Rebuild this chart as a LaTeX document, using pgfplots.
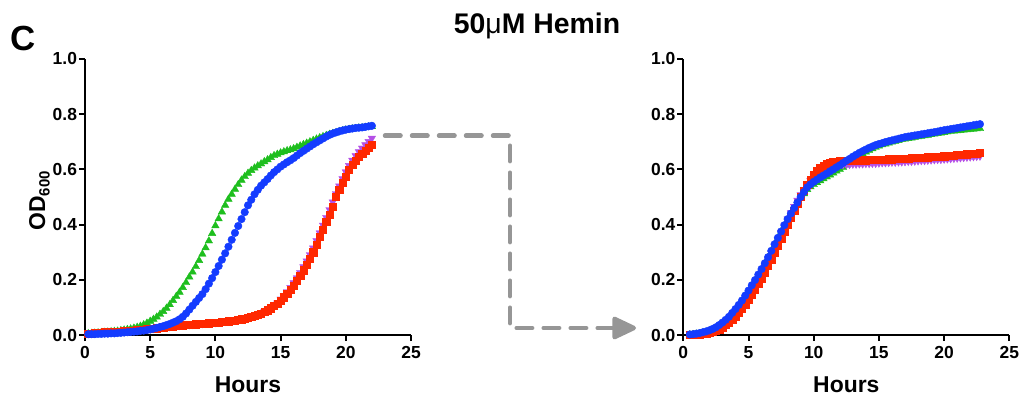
\documentclass[border=0pt]{standalone}
\usepackage{fontspec}
\setmainfont{Liberation Sans}
\usepackage{pgfplots}
\usepackage{pgfplotstable}
\pgfplotsset{compat=1.18}
\usetikzlibrary{arrows.meta}
\definecolor{cgreen}{RGB}{30,190,30}
\definecolor{cpurple}{RGB}{180,80,230}
\definecolor{cred}{RGB}{255,40,0}
\definecolor{cblue}{RGB}{20,60,255}
\definecolor{carrow}{RGB}{150,150,150}

\pgfplotstableread{
t g p r b
0.25 .005 .005 .005 .003
0.5 .006 .006 .006 .003
0.75 .007 .007 .007 .003
1.0 .008 .008 .008 .004
1.25 .009 .009 .009 .004
1.5 .010 .010 .010 .005
1.75 .011 .010 .010 .005
2.0 .012 .011 .011 .006
2.25 .013 .012 .012 .006
2.5 .014 .013 .013 .007
2.75 .016 .013 .013 .008
3.0 .018 .014 .014 .009
3.25 .020 .015 .015 .010
3.5 .022 .016 .016 .011
3.75 .025 .017 .017 .012
4.0 .028 .018 .018 .013
4.25 .032 .019 .019 .015
4.5 .037 .020 .020 .016
4.75 .043 .022 .022 .018
5.0 .050 .023 .023 .020
5.25 .057 .024 .024 .023
5.5 .065 .025 .025 .026
5.75 .075 .027 .027 .029
6.0 .085 .028 .028 .032
6.25 .097 .029 .029 .036
6.5 .110 .030 .030 .040
6.75 .125 .032 .032 .045
7.0 .140 .033 .033 .050
7.25 .155 .034 .034 .057
7.5 .172 .035 .035 .066
7.75 .190 .036 .036 .078
8.0 .210 .037 .037 .092
8.25 .228 .038 .038 .106
8.5 .248 .039 .039 .120
8.75 .270 .040 .040 .134
9.0 .293 .041 .041 .148
9.25 .316 .042 .042 .166
9.5 .341 .043 .043 .186
9.75 .368 .044 .044 .206
10.0 .396 .045 .045 .228
10.25 .421 .046 .046 .250
10.5 .446 .047 .047 .273
10.75 .470 .049 .049 .296
11.0 .492 .050 .050 .320
11.25 .510 .052 .052 .345
11.5 .528 .053 .053 .370
11.75 .545 .055 .055 .395
12.0 .561 .057 .057 .420
12.25 .574 .059 .059 .445
12.5 .586 .062 .062 .470
12.75 .596 .066 .066 .490
13.0 .605 .070 .070 .510
13.25 .613 .074 .074 .526
13.5 .620 .078 .078 .541
13.75 .628 .084 .084 .553
14.0 .635 .090 .090 .565
14.25 .643 .097 .097 .578
14.5 .650 .105 .105 .590
14.75 .655 .116 .114 .600
15.0 .660 .130 .125 .610
15.25 .664 .143 .137 .618
15.5 .668 .157 .150 .626
15.75 .671 .172 .164 .633
16.0 .675 .189 .180 .641
16.25 .680 .207 .197 .650
16.5 .685 .226 .215 .659
16.75 .690 .247 .235 .667
17.0 .695 .268 .255 .675
17.25 .700 .291 .277 .683
17.5 .705 .315 .300 .691
17.75 .710 .342 .327 .698
18.0 .715 .370 .355 .705
18.25 .719 .398 .382 .712
18.5 .723 .426 .410 .719
18.75 .727 .454 .437 .725
19.0 .730 .482 .465 .730
19.25 .733 .512 .500 .734
19.5 .737 .540 .527 .738
19.75 .740 .566 .552 .741
20.0 .743 .591 .575 .744
20.25 .745 .614 .598 .746
20.5 .747 .633 .617 .748
20.75 .748 .650 .632 .750
21.0 .750 .664 .645 .751
21.25 .751 .677 .657 .752
21.5 .752 .689 .668 .754
21.75 .754 .701 .679 .756
22.0 .755 .713 .690 .758
}\lefttable

\pgfplotstableread{
t g p r b
0.5 .001 .004 .001 .002
0.75 .002 .004 .001 .003
1.0 .003 .005 .002 .005
1.25 .004 .006 .003 .007
1.5 .007 .008 .004 .010
1.75 .010 .010 .006 .013
2.0 .014 .013 .008 .017
2.25 .019 .017 .011 .022
2.5 .025 .022 .015 .028
2.75 .033 .028 .021 .036
3.0 .042 .035 .028 .045
3.25 .052 .044 .036 .055
3.5 .063 .054 .045 .066
3.75 .077 .066 .056 .080
4.0 .091 .079 .068 .094
4.25 .106 .093 .081 .109
4.5 .122 .108 .095 .125
4.75 .140 .125 .111 .143
5.0 .158 .143 .128 .161
5.25 .177 .162 .146 .180
5.5 .196 .182 .165 .199
5.75 .216 .203 .185 .219
6.0 .236 .225 .205 .239
6.25 .257 .248 .227 .260
6.5 .279 .272 .250 .282
6.75 .302 .297 .275 .305
7.0 .326 .322 .300 .329
7.25 .349 .347 .325 .352
7.5 .372 .372 .350 .375
7.75 .395 .396 .375 .398
8.0 .416 .420 .400 .420
8.25 .436 .443 .425 .440
8.5 .456 .466 .450 .460
8.75 .476 .488 .475 .480
9.0 .495 .508 .500 .500
9.25 .512 .527 .523 .518
9.5 .527 .545 .545 .535
9.75 .537 .560 .563 .546
10.0 .545 .573 .580 .555
10.25 .552 .584 .594 .563
10.5 .559 .593 .605 .571
10.75 .566 .600 .613 .578
11.0 .573 .606 .620 .585
11.25 .580 .610 .624 .593
11.5 .587 .613 .627 .600
11.75 .594 .615 .629 .608
12.0 .600 .617 .630 .615
12.25 .608 .617 .631 .623
12.5 .616 .618 .631 .631
12.75 .624 .618 .632 .638
13.0 .632 .619 .632 .646
13.25 .641 .619 .632 .653
13.5 .649 .620 .633 .660
13.75 .656 .620 .633 .666
14.0 .663 .621 .633 .672
14.25 .669 .621 .634 .678
14.5 .675 .622 .634 .683
14.75 .680 .622 .635 .688
15.0 .685 .623 .635 .692
15.25 .689 .624 .636 .695
15.5 .692 .624 .636 .699
15.75 .696 .625 .637 .702
16.0 .699 .626 .637 .705
16.25 .702 .626 .638 .708
16.5 .705 .627 .638 .711
16.75 .708 .627 .639 .714
17.0 .710 .628 .640 .717
17.25 .712 .629 .640 .719
17.5 .714 .629 .641 .721
17.75 .716 .630 .641 .723
18.0 .718 .631 .642 .725
18.25 .720 .632 .643 .727
18.5 .722 .632 .643 .729
18.75 .724 .633 .644 .731
19.0 .726 .634 .645 .733
19.25 .728 .635 .646 .735
19.5 .730 .636 .646 .737
19.75 .732 .636 .647 .740
20.0 .734 .637 .648 .742
20.25 .736 .638 .649 .744
20.5 .738 .639 .650 .746
20.75 .739 .640 .651 .748
21.0 .740 .641 .652 .750
21.25 .741 .642 .653 .752
21.5 .743 .643 .654 .754
21.75 .744 .644 .655 .756
22.0 .745 .645 .656 .758
22.25 .746 .646 .657 .760
22.5 .747 .647 .658 .762
22.75 .748 .648 .660 .764
}\righttable

\pgfplotsset{
  growth/.style={
    scale only axis, width=326bp, height=276bp,
    xmin=0, xmax=25, ymin=0, ymax=1,
    axis x line*=bottom, axis y line*=left,
    axis line style={line width=2bp, -, black},
    xtick={0,5,10,15,20,25}, ytick={0,0.2,0.4,0.6,0.8,1.0},
    tick align=outside, major tick length=6bp,
    tick style={line width=2bp, black},
    /pgf/number format/assume math mode=true,
    ticklabel style={font=\bfseries\fontsize{17.5}{18}\selectfont},
    yticklabel style={/pgf/number format/fixed, /pgf/number format/fixed zerofill, /pgf/number format/precision=1, xshift=1.5bp},
    xticklabel style={yshift=-2bp},
    xlabel={Hours},
    xlabel style={font=\bfseries\fontsize{23}{24}\selectfont, at={(axis description cs:0.5,0)}, anchor=base, yshift=-57bp},
    clip=false, anchor=origin,
    every axis plot/.append style={only marks},
  },
  sg/.style={mark=triangle*, mark size=4.3bp, color=cgreen, mark options={solid, fill=cgreen, draw=cgreen}},
  sp/.style={mark=triangle*, mark size=4.3bp, color=cpurple, mark options={solid, rotate=180, fill=cpurple, draw=cpurple}},
  sr/.style={mark=square*, mark size=3.6bp, color=cred, mark options={solid, fill=cred, draw=cred}},
  sb/.style={mark=*, mark size=3.8bp, color=cblue, mark options={solid, fill=cblue, draw=cblue}},
}

\begin{document}
\begin{tikzpicture}[x=1bp, y=1bp]
\path[use as bounding box] (0,0) rectangle (1021,402);

\begin{axis}[growth, at={(85bp,67bp)}]
\addplot+[sg] table[x=t, y=g] {\lefttable};
\addplot+[sp] table[x=t, y=p] {\lefttable};
\addplot+[sr] table[x=t, y=r] {\lefttable};
\addplot+[sb] table[x=t, y=b] {\lefttable};
\end{axis}

\begin{axis}[growth, at={(683.3bp,67bp)}]
\addplot+[sg] table[x=t, y=g] {\righttable};
\addplot+[sp] table[x=t, y=p] {\righttable};
\addplot+[sr] table[x=t, y=r] {\righttable};
\addplot+[sb] table[x=t, y=b] {\righttable};
\end{axis}

\node[rotate=90, anchor=base, inner sep=0, font=\bfseries\fontsize{23}{24}\selectfont] at (45,201)
  {OD\raisebox{-4.5bp}{\fontsize{15}{16}\selectfont 600}};

\draw[carrow, line width=4.5bp, line cap=round, line join=round, dash pattern=on 15.5bp off 11.5bp,
  -{Triangle[length=27bp, width=24bp, round=false, line cap=butt]}]
  (385,266.3) -- (510,266.3) -- (510,74) -- (636,74);

\node[anchor=base west, inner sep=0] at (10.5,352) {\bfseries\fontsize{35}{36}\selectfont C};
\node[anchor=base, inner sep=0] at (537,369) {\bfseries\fontsize{28.5}{30}\selectfont 50{\mdseries μ}M Hemin};
\end{tikzpicture}
\end{document}
